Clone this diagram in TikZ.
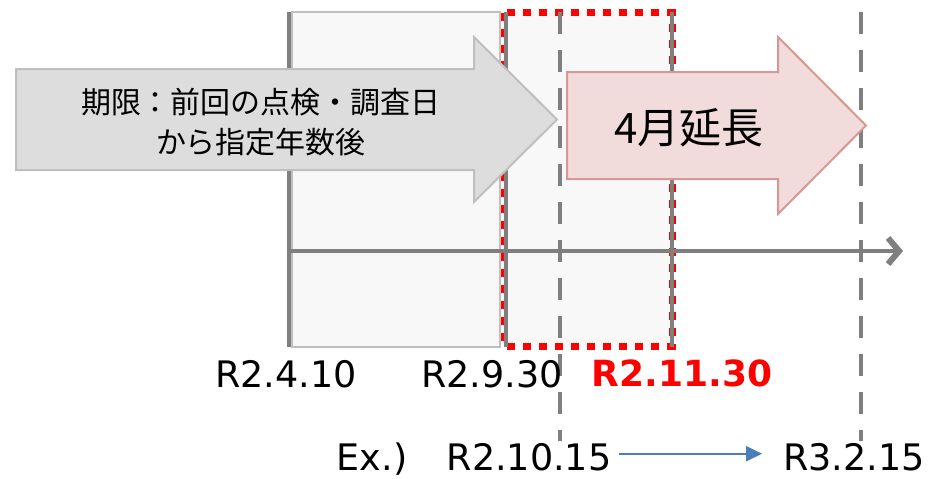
\documentclass[tikz,border=0pt]{standalone}
\usepackage{fontspec}
\setmainfont{DejaVu Sans}
\newfontfamily\jpfont{Noto Sans CJK JP}
\usetikzlibrary{arrows.meta}
\definecolor{linegray}{HTML}{7F7F7F}
\definecolor{boxgray}{HTML}{BFBFBF}
\definecolor{periodfill}{HTML}{F8F8F8}
\definecolor{limitfill}{HTML}{DDDDDD}
\definecolor{extfill}{HTML}{F2DCDB}
\definecolor{extline}{HTML}{D99694}
\definecolor{exblue}{HTML}{4A7EBB}

\begin{document}
\begin{tikzpicture}[x=1pt, y=-1pt,
	every node/.style={inner sep=0pt, anchor=base, font=\fontsize{36.5}{40}\selectfont},
	solidline/.style={draw=linegray, line width=4pt},
	dashline/.style={draw=linegray, line width=4pt, dash pattern=on 22pt off 16pt},
	reddots/.style={draw=red, line width=7pt, dash pattern=on 8pt off 8pt},
	limitarrow/.style={fill=limitfill, draw=boxgray, line width=2pt},
	extarrow/.style={fill=extfill, draw=extline, line width=2pt}]

\useasboundingbox (0,0) rectangle (930,479);

\filldraw[fill=periodfill, draw=boxgray, line width=1.5pt] (292,12) rectangle (500,347);
\fill[periodfill] (503,12) rectangle (672,346);
\draw[reddots] (504,12.5) rectangle (672,346);

\foreach \x in {289,506,672}{
	\draw[solidline] (\x,12) -- (\x,347);
}
\foreach \x in {560,861}{
	\draw[dashline] (\x,12) -- (\x,441);
}
\draw[solidline, -{Straight Barb[length=11pt, width=26pt, line width=6pt 0]}] (289,251) -- (903,251);

\draw[limitarrow] (16,69) -- (474,69) -- (474,37) -- (557,119.5) -- (474,202) -- (474,170) -- (16,170) -- cycle;
\node[font=\jpfont\fontsize{30}{40}\selectfont, align=center] (limit) at (261,153) {期限：前回の点検・調査日\\から指定年数後};

\draw[extarrow] (567,72) -- (778,72) -- (778,37) -- (866,125.5) -- (778,214) -- (778,179) -- (567,179) -- cycle;
\node[font=\jpfont\fontsize{42}{50}\selectfont] (ext) at (689,143) {4月延長};

\foreach \n/\x/\y/\t in {d1/286/387/R2.4.10, d2/492/387/R2.9.30, ex/372/470/Ex.), d3/529/470/R2.10.15, d4/854/470/R3.2.15}{
	\node (\n) at (\x,\y) {\t};
}
\node[text=red, font=\fontsize{36}{40}\selectfont\bfseries] (newdate) at (682,386) {R2.11.30};

\draw[exblue, line width=2pt, -{Triangle[length=16pt, width=15pt]}, shorten <=7pt, shorten >=21pt] ([yshift=3pt]d3.east) -- ([yshift=3pt]d4.west);

\end{tikzpicture}
\end{document}
